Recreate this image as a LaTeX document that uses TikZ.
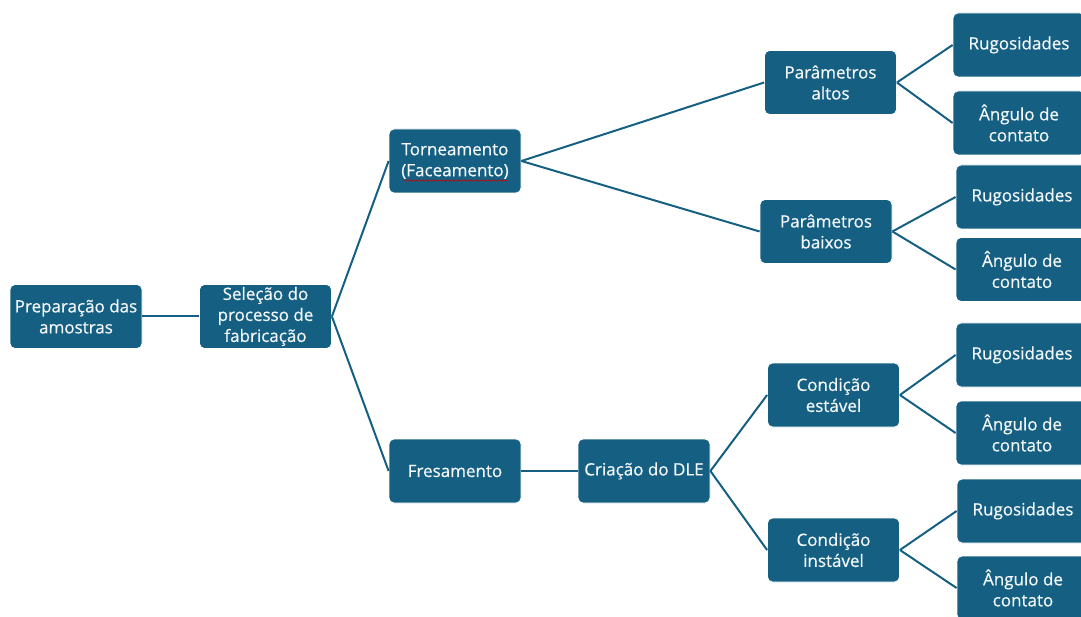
\documentclass[tikz,border=0pt]{standalone}
\usepackage{fontspec}
\newfontfamily\boxfont{Open Sans}[FakeBold=0.6]
\usetikzlibrary{decorations.pathmorphing}
\definecolor{boxblue}{HTML}{156082}
\tikzset{
  box/.style={draw=white, line width=0.8pt, fill=boxblue, rounded corners=5pt,
    minimum width=132pt, minimum height=64pt, inner sep=1pt, align=center,
    text=white!95!boxblue, font=\boxfont\fontsize{17}{21}\selectfont},
  link/.style={draw=boxblue, line width=2pt}
}
\begin{document}
\begin{tikzpicture}[x=1pt,y=-1pt]
\useasboundingbox (0,0) rectangle (1081,617);
\node[box] (prep) at (76,316.5) {Preparação das\\amostras};
\node[box] (sel) at (265.5,316.5) {Seleção do\\processo de\\fabricação};
\node[box] (torn) at (455,161) {Torneamento\\(Faceamento)};
\node[box] (fres) at (455,471) {Fresamento};
\node[box] (dle) at (644,471) {Criação do DLE};
\node[box] (altos) at (830.5,82.5) {Parâmetros\\altos};
\node[box] (baixos) at (826,231.5) {Parâmetros\\baixos};
\node[box] (est) at (833.5,395) {Condição\\estável};
\node[box] (inst) at (833.5,550) {Condição\\instável};
\node[box] (r1) at (1019,45) {Rugosidades};
\node[box] (a1) at (1019,123) {Ângulo de\\contato};
\node[box] (r2) at (1022,197) {Rugosidades};
\node[box] (a2) at (1022,269.5) {Ângulo de\\contato};
\node[box] (r3) at (1022,355) {Rugosidades};
\node[box] (a3) at (1022,433) {Ângulo de\\contato};
\node[box] (r4) at (1023,511) {Rugosidades};
\node[box] (a4) at (1023,588) {Ângulo de\\contato};
\draw[link] (prep.east) -- (sel.west);
\draw[link] (sel.east) -- (torn.west);
\draw[link] (sel.east) -- (fres.west);
\draw[link] (fres.east) -- (dle.west);
\draw[link] (torn.east) -- (altos.west);
\draw[link] (torn.east) -- (baixos.west);
\draw[link] (dle.east) -- (est.west);
\draw[link] (dle.east) -- (inst.west);
\draw[link] (altos.east) -- (r1.west);
\draw[link] (altos.east) -- (a1.west);
\draw[link] (baixos.east) -- (r2.west);
\draw[link] (baixos.east) -- (a2.west);
\draw[link] (est.east) -- (r3.west);
\draw[link] (est.east) -- (a3.west);
\draw[link] (inst.east) -- (r4.west);
\draw[link] (inst.east) -- (a4.west);
\coordinate (sqA) at (404,180.5);
\coordinate (sqB) at (507,180.5);
\draw[red!80!black, line width=0.6pt, decorate, decoration={snake, amplitude=0.7pt, segment length=3pt}] (sqA) -- (sqB);
\end{tikzpicture}
\end{document}
